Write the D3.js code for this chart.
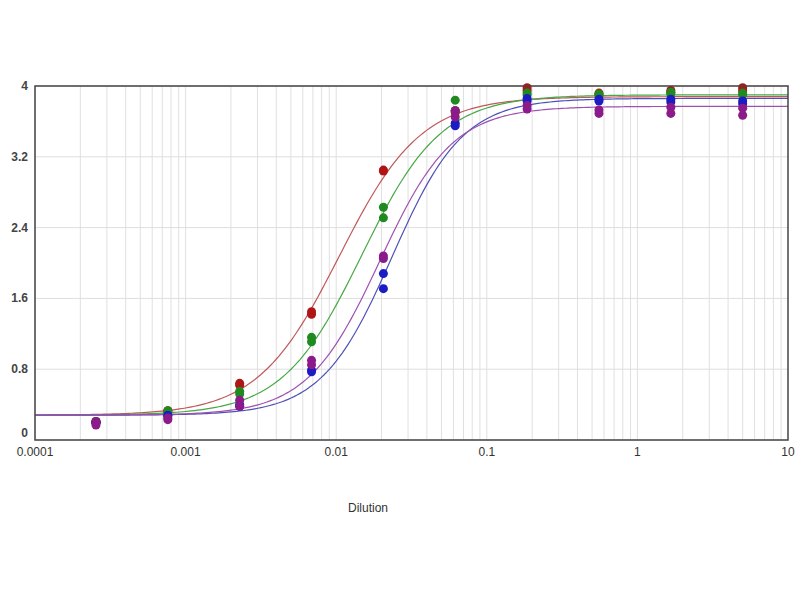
<!DOCTYPE html>
<html>
<head>
<meta charset="utf-8">
<script src="https://cdn.jsdelivr.net/npm/d3@7"></script>
<style>
  body { margin: 0; background: #fff; }
  svg { display: block; font-family: "Liberation Sans", Arial, sans-serif; }
</style>
</head>
<body>
<svg id="chart" width="800" height="600"></svg>
<script>
// 3-fold serial dilutions, replicate readings per series
const dilutions = [5, 1.667, 0.5556, 0.1852, 0.0617, 0.02058, 0.00686, 0.002286, 0.000762, 0.000254];

const redValues = [[3.98, 3.95], [3.95, 3.93], [3.92, 3.90], [3.98, 3.95], [3.72, 3.70],
  [3.05, 3.04], [1.45, 1.42], [0.64, 0.62], [0.33, 0.32], [0.21, 0.20]];
const greenValues = [[3.92, 3.90], [3.93, 3.91], [3.91, 3.89], [3.92, 3.90], [3.84, 3.72],
  [2.63, 2.51], [1.16, 1.11], [0.55, 0.52], [0.33, 0.31], [0.21, 0.20]];
const purpleValues = [[3.75, 3.67], [3.76, 3.69], [3.73, 3.69], [3.78, 3.74], [3.72, 3.65],
  [2.08, 2.05], [0.90, 0.85], [0.45, 0.38], [0.25, 0.23], [0.21, 0.17]];
const blueValues = [[3.83, 3.80], [3.85, 3.82], [3.85, 3.83], [3.86, 3.83], [3.58, 3.55],
  [1.88, 1.71], [0.79, 0.77], [0.40, 0.38], [0.28, 0.27], [0.20, 0.19]];

// 4-parameter logistic fit per series: [bottom, top, ec50, hill]
const redFit = [0.28, 3.88, 0.0105, 1.6];
const greenFit = [0.28, 3.90, 0.0148, 1.65];
const purpleFit = [0.28, 3.77, 0.0195, 1.8];
const blueFit = [0.28, 3.86, 0.0235, 1.85];

const xTickLabels = ['0.0001', '0.001', '0.01', '0.1', '1', '10'];
const yTickValues = [0, 0.8, 1.6, 2.4, 3.2, 4];

// drawn in this order, last on top
const series = [
  { values: redValues, fit: redFit, dot: '#b01515', line: '#c05858' },
  { values: greenValues, fit: greenFit, dot: '#1f8a1f', line: '#46a846' },
  { values: blueValues, fit: blueFit, dot: '#1c1cc4', line: '#5050b8' },
  { values: purpleValues, fit: purpleFit, dot: '#8b1a8b', line: '#a050b0' },
];

const svg = d3.select('#chart');
const margin = { top: 86, right: 12, bottom: 160, left: 35 };
const width = 800 - margin.left - margin.right;
const height = 600 - margin.top - margin.bottom;

const x = d3.scaleLog().domain([0.0001, 10]).range([0, width]);
const y = d3.scaleLinear().domain([0, 4]).range([height, 0]);

const g = svg.append('g').attr('transform', `translate(${margin.left},${margin.top})`);

// vertical log grid (1..9 per decade)
const gridX = [];
for (let e = -4; e < 1; e += 1) {
  for (let m = 1; m < 10; m += 1) gridX.push(m * Math.pow(10, e));
}
g.append('g')
  .selectAll('line')
  .data(gridX)
  .enter()
  .append('line')
  .attr('x1', (d) => x(d))
  .attr('x2', (d) => x(d))
  .attr('y1', 0)
  .attr('y2', height)
  .attr('stroke', '#e0e0e0')
  .attr('stroke-width', 1);

g.append('g')
  .selectAll('line')
  .data(yTickValues)
  .enter()
  .append('line')
  .attr('x1', 0)
  .attr('x2', width)
  .attr('y1', (d) => y(d))
  .attr('y2', (d) => y(d))
  .attr('stroke', '#dedede')
  .attr('stroke-width', 1);

// fitted curves
const logistic = (fit, xv) => fit[0] + (fit[1] - fit[0]) / (1 + Math.pow(fit[2] / xv, fit[3]));
const curveX = d3.range(-4, 1.0001, 0.02).map((e) => Math.pow(10, e));
const line = d3.line().x((d) => x(d[0])).y((d) => y(d[1]));

series.forEach((s) => {
  g.append('path')
    .datum(curveX.map((xv) => [xv, logistic(s.fit, xv)]))
    .attr('fill', 'none')
    .attr('stroke', s.line)
    .attr('stroke-width', 1.2)
    .attr('d', line);
});

// replicate points
series.forEach((s) => {
  const pts = [];
  s.values.forEach((reps, i) => reps.forEach((v) => pts.push([dilutions[i], v])));
  g.append('g')
    .selectAll('circle')
    .data(pts)
    .enter()
    .append('circle')
    .attr('cx', (d) => x(d[0]))
    .attr('cy', (d) => y(d[1]))
    .attr('r', 4.5)
    .attr('fill', s.dot);
});

// frame
g.append('rect')
  .attr('width', width)
  .attr('height', height)
  .attr('fill', 'none')
  .attr('stroke', '#444')
  .attr('stroke-width', 1.5);

// axis labels
g.append('g')
  .selectAll('text')
  .data(xTickLabels)
  .enter()
  .append('text')
  .attr('x', (d) => x(+d))
  .attr('y', height + 16)
  .attr('text-anchor', 'middle')
  .attr('font-size', 12)
  .attr('fill', '#333')
  .text((d) => d);

g.append('g')
  .selectAll('text')
  .data(yTickValues)
  .enter()
  .append('text')
  .attr('x', -7)
  .attr('y', (d) => (d === 0 ? y(d) - 3 : y(d) + 4))
  .attr('text-anchor', 'end')
  .attr('font-size', 12)
  .attr('font-weight', 'bold')
  .attr('fill', '#444')
  .text((d) => d);

svg.append('text')
  .attr('x', 368)
  .attr('y', 512)
  .attr('text-anchor', 'middle')
  .attr('font-size', 12)
  .attr('fill', '#333')
  .text('Dilution');
</script>
</body>
</html>
